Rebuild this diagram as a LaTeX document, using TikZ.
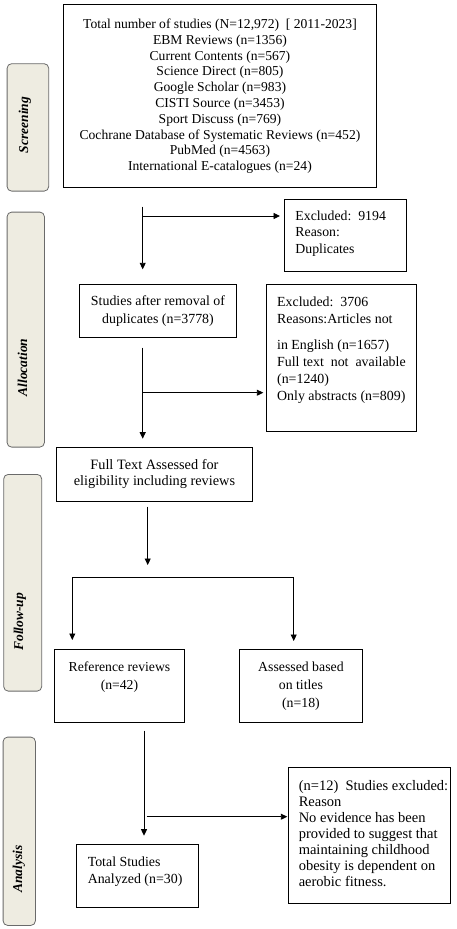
\documentclass[tikz,border=0pt]{standalone}
\usepackage{fontspec}
\setmainfont{Liberation Serif}
\usetikzlibrary{arrows.meta,calc}
\definecolor{labfill}{HTML}{EEECE1}
\definecolor{labdraw}{HTML}{6A6A6A}
\newcommand{\fs}[2]{\fontsize{#1}{#2}\selectfont}
\begin{document}
\begin{tikzpicture}[x=1pt,y=-1pt,
  box/.style={draw,line width=0.9pt,inner sep=0pt,anchor=north west},
  arr/.style={line width=0.9pt,-{Triangle[length=6.5pt,width=6pt]}},
  ln/.style={line width=0.9pt},
  lab/.style={draw=labdraw,fill=labfill,rounded corners=4.5pt,line width=0.8pt,anchor=north west,inner sep=0pt},
  labtxt/.style={rotate=90,inner sep=0pt,font=\fontsize{13.5}{16}\selectfont\bfseries\itshape}
]
\useasboundingbox (0,0) rectangle (456,929);

% side labels
\node[lab,minimum width=41.6pt,minimum height=127.4pt] (l1) at (6.7,63.3) {};
\node[labtxt] (t1) at (25,125) {Screening};
\node[lab,minimum width=37.3pt,minimum height=235pt] (l2) at (6.7,211.7) {};
\node[labtxt] (t2) at (22.5,367.5) {Allocation};
\node[lab,minimum width=38pt,minimum height=216.7pt] (l3) at (3.3,474) {};
\node[labtxt] (t3) at (20,621.7) {Follow-up};
\node[lab,minimum width=32.3pt,minimum height=188.3pt] (l4) at (2.7,736.7) {};
\node[labtxt] (t4) at (19,869) {Analysis};

% boxes
\node[box] (src) at (63.3,4.3) {\parbox[c][183pt][c]{312.4pt}{\centering\fs{13.6}{15.8}%
Total number of studies (N=12,972)~~[ 2011-2023]\\
EBM Reviews (n=1356)\\
Current Contents (n=567)\\
Science Direct (n=805)\\
Google Scholar (n=983)\\
CISTI Source (n=3453)\\
Sport Discuss (n=769)\\
Cochrane Database of Systematic Reviews (n=452)\\
PubMed (n=4563)\\
International E-catalogues (n=24)}};

\node[box] (ex1) at (284.3,199) {\parbox[c][72pt][t]{121.2pt}{\raggedright\leftskip=10.7pt\fs{13.8}{16.2}%
\rule{0pt}{21.2pt}Excluded:~~9194\\
Reason:\\
Duplicates}};

\node[box] (after) at (79.3,284.3) {\parbox[c][52.4pt][c]{156.4pt}{\centering\fs{13.9}{17.3}%
Studies after removal of\\duplicates (n=3778)}};

\node[box] (ex2) at (266.3,284.3) {\parbox[c][147pt][t]{149.4pt}{\raggedright\leftskip=10.4pt\fs{13.9}{17}%
\rule{0pt}{21.6pt}Excluded:~~3706\\
Reasons:Articles not\\[9.3pt]
in English (n=1657)\\
Full text~ not~ available\\
(n=1240)\\
Only abstracts (n=809)}};

\node[box] (full) at (56.3,446.7) {\parbox[c][54pt][c]{195.4pt}{\centering\fs{14.3}{15.7}%
Full Text Assessed for\\eligibility including reviews}};

\node[box] (refrev) at (54.3,649.3) {\parbox[c][72.4pt][t]{129.4pt}{\centering\fs{13.7}{18}%
\rule{0pt}{22.2pt}Reference reviews\\(n=42)}};

\node[box] (assess) at (239.3,649.3) {\parbox[c][72.4pt][t]{122.4pt}{\centering\fs{13.8}{17.7}%
\rule{0pt}{22.2pt}Assessed based\\on titles\\(n=18)}};

\node[box] (total) at (76.3,844) {\parbox[c][62.7pt][t]{121.4pt}{\raggedright\leftskip=11pt\fs{13.9}{17}%
\rule{0pt}{22.5pt}Total Studies\\Analyzed (n=30)}};

\node[box] (ex3) at (288.3,766.7) {\parbox[c][136.6pt][t]{161.4pt}{\raggedright\leftskip=10pt\fs{14.5}{16}%
\rule{0pt}{23.2pt}(n=12)~ Studies excluded:\\
Reason\\
No evidence has been\\
provided to suggest that\\
maintaining childhood\\
obesity is dependent on\\
aerobic fitness.}};

% connectors
\coordinate (s1) at (142.7,206.7);
\coordinate (b1) at (142.7,216);
\draw[arr] (s1) -- ([yshift=15pt]s1 |- after.north);
\draw[arr] (b1) -- ([xshift=-4.3pt]b1 -| ex1.west);

\coordinate (s2) at (142.7,347.7);
\coordinate (b2) at (142.7,392.7);
\draw[arr] (s2) -- ([yshift=8pt]s2 |- full.north);
\draw[arr] (b2) -- ([xshift=-3pt]b2 -| ex2.west);

\coordinate (s3) at (147.7,506.7);
\coordinate (m3) at (147.7,565);
\coordinate (hl) at (72.3,577.7);
\coordinate (hr) at (293.7,577.7);
\draw[arr] (s3) -- (m3);
\draw[ln,{Triangle[length=6.5pt,width=6pt]}-{Triangle[length=6.5pt,width=6pt]}]
  ([yshift=9.3pt]hl |- refrev.north) -- (hl) -- (hr) -- ([yshift=8.3pt]hr |- assess.north);

\coordinate (s4) at (144,730.7);
\coordinate (b4) at (146.7,816.7);
\draw[arr] (s4) -- ([yshift=8.3pt]s4 |- total.north);
\draw[arr] (b4) -- ([xshift=-1pt]b4 -| ex3.west);
\end{tikzpicture}
\end{document}
